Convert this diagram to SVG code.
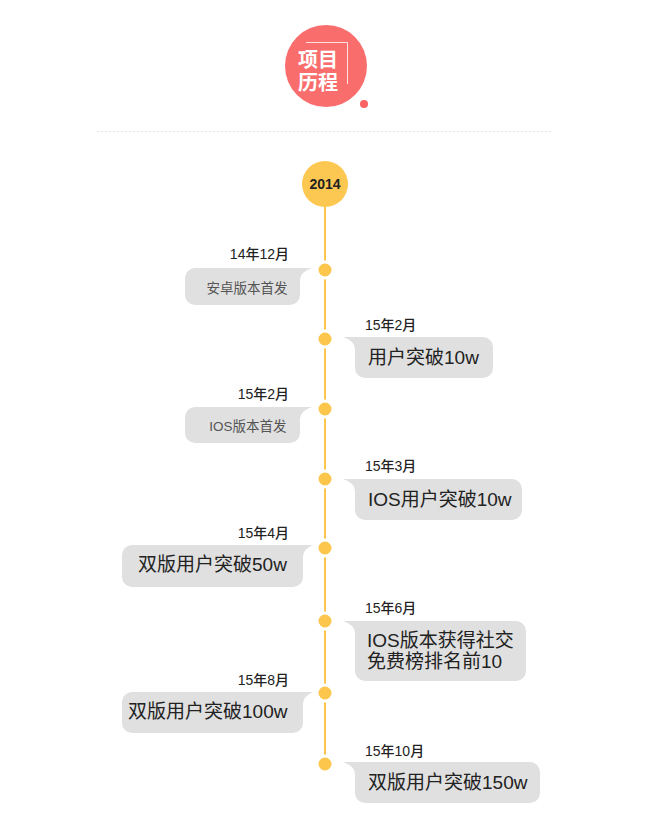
<svg xmlns="http://www.w3.org/2000/svg" width="650" height="833" viewBox="0 0 650 833">
<style>
.lbl{font-family:"Liberation Sans","Noto Sans CJK SC",sans-serif;font-size:14px;font-weight:500;fill:#222}
.small{font-family:"Liberation Sans","Noto Sans CJK SC",sans-serif;font-size:13.5px;fill:#555}
.big{font-family:"Liberation Sans","Noto Sans CJK SC",sans-serif;font-size:19px;fill:#222}
.ttl{font-family:"Noto Sans CJK SC",sans-serif;font-size:20px;font-weight:700;fill:#fff}
.bub{fill:#e0e0e0}
.dot{fill:#fcc54b;stroke:#fff;stroke-width:3}
</style>
<rect width="650" height="833" fill="#fff"/>
<g id="title">
<circle cx="326" cy="66" r="41" fill="#f96d6d"/>
<circle cx="364" cy="104" r="4" fill="#f96363"/>
<path d="M306 42.5 H347.5 V84" fill="none" stroke="#fff" stroke-opacity="0.8" stroke-width="1"/>
<text class="ttl" x="318" y="67" text-anchor="middle">项目</text>
<text class="ttl" x="318" y="90" text-anchor="middle">历程</text>
</g>
<line id="divider" x1="97" y1="131.5" x2="551" y2="131.5" stroke="#e6e6e6" stroke-width="1" stroke-dasharray="2 2"/>
<g id="connectors">
<line x1="325" y1="206" x2="325" y2="764" stroke="#fcc54b" stroke-width="2"/>
</g>
<g id="year">
<circle cx="325" cy="184" r="23" fill="#fdc851"/>
<text x="325" y="189" text-anchor="middle" font-family="'Liberation Sans',sans-serif" font-size="14" font-weight="700" fill="#222">2014</text>
</g>
<g id="n1">
<circle class="dot" cx="325" cy="270" r="8"/>
<text class="lbl" x="289" y="259" text-anchor="end">14年12月</text>
<path class="bub" d="M195 268 H312 Q300 272 300 280 V295 A10 10 0 0 1 290 305 H195 A10 10 0 0 1 185 295 V278 A10 10 0 0 1 195 268 Z"/>
<text class="small" x="247" y="293" text-anchor="middle">安卓版本首发</text>
</g>
<g id="n2">
<circle class="dot" cx="325" cy="339" r="8"/>
<text class="lbl" x="365" y="330">15年2月</text>
<path class="bub" d="M343 337 H483 A10 10 0 0 1 493 347 V368 A10 10 0 0 1 483 378 H365 A10 10 0 0 1 355 368 V349 Q355 341 343 337 Z"/>
<text class="big" x="368" y="364">用户突破10w</text>
</g>
<g id="n3">
<circle class="dot" cx="325" cy="409" r="8"/>
<text class="lbl" x="289" y="399" text-anchor="end">15年2月</text>
<path class="bub" d="M195 407 H312 Q300 411 300 419 V433 A10 10 0 0 1 290 443 H195 A10 10 0 0 1 185 433 V417 A10 10 0 0 1 195 407 Z"/>
<text class="small" x="248" y="431" text-anchor="middle">IOS版本首发</text>
</g>
<g id="n4">
<circle class="dot" cx="325" cy="479" r="8"/>
<text class="lbl" x="365" y="471">15年3月</text>
<path class="bub" d="M343 479 H512 A10 10 0 0 1 522 489 V510 A10 10 0 0 1 512 520 H365 A10 10 0 0 1 355 510 V491 Q355 483 343 479 Z"/>
<text class="big" x="368" y="506">IOS用户突破10w</text>
</g>
<g id="n5">
<circle class="dot" cx="325" cy="548" r="8"/>
<text class="lbl" x="289" y="538" text-anchor="end">15年4月</text>
<path class="bub" d="M132 545 H313 Q303 549 303 557 V577 A10 10 0 0 1 293 587 H132 A10 10 0 0 1 122 577 V555 A10 10 0 0 1 132 545 Z"/>
<text class="big" x="138" y="571">双版用户突破50w</text>
</g>
<g id="n6">
<circle class="dot" cx="325" cy="621" r="8"/>
<text class="lbl" x="365" y="613">15年6月</text>
<path class="bub" d="M343 621 H516 A10 10 0 0 1 526 631 V671 A10 10 0 0 1 516 681 H365 A10 10 0 0 1 355 671 V633 Q355 625 343 621 Z"/>
<text class="big" x="367" y="647">IOS版本获得社交</text>
<text class="big" x="367" y="668">免费榜排名前10</text>
</g>
<g id="n7">
<circle class="dot" cx="325" cy="693" r="8"/>
<text class="lbl" x="289" y="685" text-anchor="end">15年8月</text>
<path class="bub" d="M132 692 H313 Q303 696 303 704 V723 A10 10 0 0 1 293 733 H132 A10 10 0 0 1 122 723 V702 A10 10 0 0 1 132 692 Z"/>
<text class="big" x="128" y="718">双版用户突破100w</text>
</g>
<g id="n8">
<circle class="dot" cx="325" cy="764" r="8"/>
<text class="lbl" x="365" y="756">15年10月</text>
<path class="bub" d="M343 762 H530 A10 10 0 0 1 540 772 V793 A10 10 0 0 1 530 803 H365 A10 10 0 0 1 355 793 V774 Q355 766 343 762 Z"/>
<text class="big" x="368" y="789">双版用户突破150w</text>
</g>
</svg>
